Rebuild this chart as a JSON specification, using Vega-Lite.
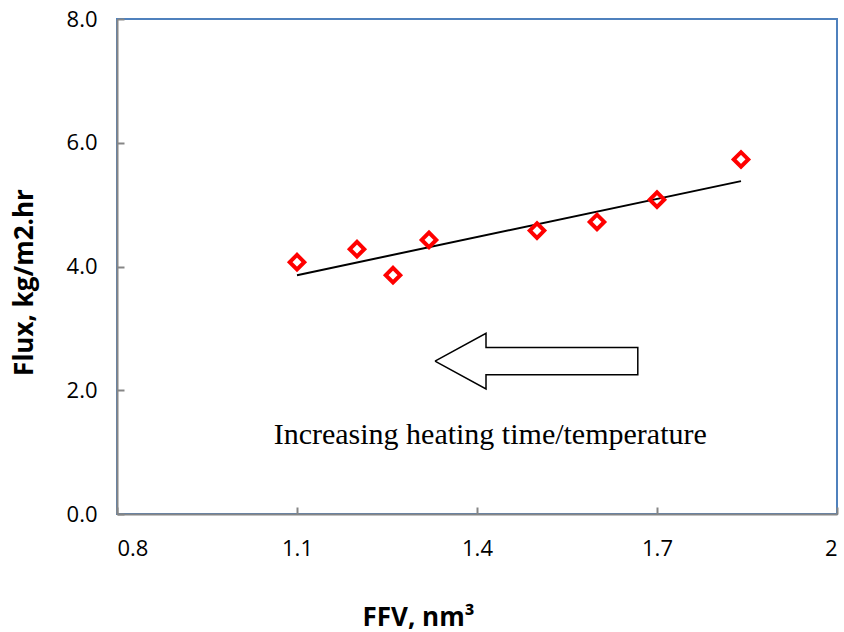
{
  "$schema": "https://vega.github.io/schema/vega-lite/v6.json",
  "width": 720,
  "height": 495,
  "autosize": {"type": "none"},
  "padding": {"left": 117, "top": 19, "right": 7, "bottom": 118},
  "background": "white",
  "config": {
    "view": {"stroke": "#4f81bd", "strokeWidth": 2},
    "axis": {
      "grid": false,
      "domainColor": "#868686",
      "domainWidth": 2,
      "tickColor": "#868686",
      "tickWidth": 2,
      "tickSize": -7,
      "labelFont": "Open Sans",
      "labelFontSize": 22,
      "labelColor": "#000000",
      "titleFont": "Open Sans",
      "titleFontSize": 26,
      "titleFontWeight": "bold",
      "titleColor": "#000000"
    }
  },
  "datasets": {
    "points": [
      {"ffv": 1.10, "flux": 4.07},
      {"ffv": 1.20, "flux": 4.28},
      {"ffv": 1.26, "flux": 3.86},
      {"ffv": 1.32, "flux": 4.43},
      {"ffv": 1.50, "flux": 4.58},
      {"ffv": 1.60, "flux": 4.72},
      {"ffv": 1.70, "flux": 5.08},
      {"ffv": 1.84, "flux": 5.73}
    ],
    "trend": [
      {"ffv": 1.10, "flux": 3.86},
      {"ffv": 1.84, "flux": 5.38}
    ],
    "arrow": [
      {"i": 1, "ax": 1.330, "ay": 2.47},
      {"i": 2, "ax": 1.415, "ay": 2.92},
      {"i": 3, "ax": 1.415, "ay": 2.69},
      {"i": 4, "ax": 1.668, "ay": 2.69},
      {"i": 5, "ax": 1.668, "ay": 2.25},
      {"i": 6, "ax": 1.415, "ay": 2.25},
      {"i": 7, "ax": 1.415, "ay": 2.02},
      {"i": 8, "ax": 1.330, "ay": 2.47}
    ],
    "note": [
      {"tx": 1.422, "ty": 1.28, "label": "Increasing heating time/temperature"}
    ]
  },
  "layer": [
    {
      "data": {"name": "trend"},
      "mark": {"type": "line", "color": "#000000", "strokeWidth": 2},
      "encoding": {
        "x": {
          "field": "ffv", "type": "quantitative",
          "scale": {"domain": [0.8, 2.0], "nice": false, "zero": false},
          "axis": {
            "values": [0.8, 1.1, 1.4, 1.7, 2.0],
            "format": "~g",
            "labelPadding": 31,
            "title": "FFV, nm³",
            "titleX": 301,
            "titleY": 111,
            "titleBaseline": "alphabetic",
            "titleAnchor": null
          }
        },
        "y": {
          "field": "flux", "type": "quantitative",
          "scale": {"domain": [0, 8], "nice": false},
          "axis": {
            "values": [0, 2, 4, 6, 8],
            "format": ".1f",
            "labelPadding": 27,
            "title": "Flux, kg/m2.hr",
            "titleX": -85,
            "titleY": 263,
            "titleBaseline": "alphabetic"
          }
        }
      }
    },
    {
      "data": {"name": "points"},
      "mark": {"type": "point", "shape": "diamond", "filled": false, "color": "#ff0000", "strokeWidth": 4, "size": 210, "opacity": 1},
      "encoding": {
        "x": {"field": "ffv", "type": "quantitative"},
        "y": {"field": "flux", "type": "quantitative"}
      }
    },
    {
      "data": {"name": "arrow"},
      "mark": {"type": "line", "color": "#000000", "strokeWidth": 1.5},
      "encoding": {
        "x": {"field": "ax", "type": "quantitative"},
        "y": {"field": "ay", "type": "quantitative"},
        "order": {"field": "i", "type": "quantitative"}
      }
    },
    {
      "data": {"name": "note"},
      "mark": {"type": "text", "font": "Liberation Serif", "fontSize": 30, "color": "#000000", "align": "center", "baseline": "middle"},
      "encoding": {
        "x": {"field": "tx", "type": "quantitative"},
        "y": {"field": "ty", "type": "quantitative"},
        "text": {"field": "label"}
      }
    }
  ]
}
